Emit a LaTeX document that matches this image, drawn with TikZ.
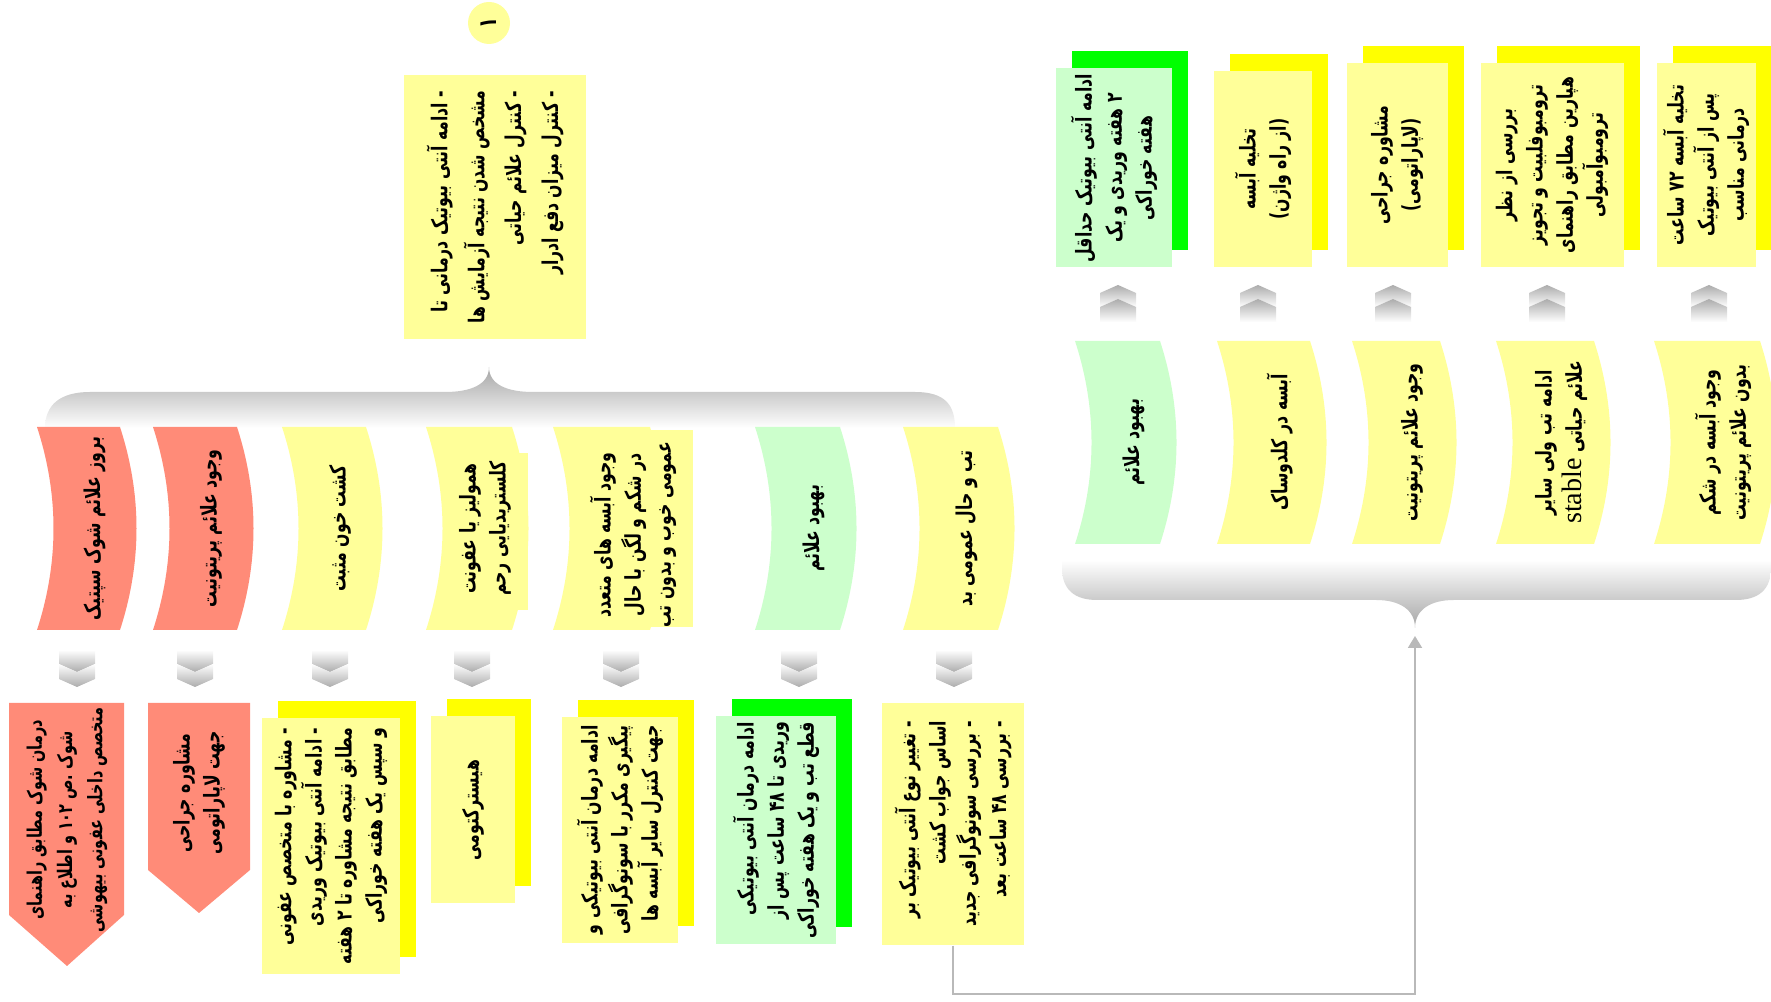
\documentclass[tikz,border=0pt]{standalone}
\usepackage{fontspec}
\setmainfont{Liberation Serif}
\newfontfamily\fa[Script=Arabic, FakeStretch=0.72]{DejaVu Sans}
\newfontfamily\lat{Liberation Serif}
\TeXXeTstate=1
\usetikzlibrary{positioning, shadows, arrows.meta}

\definecolor{noteyellow}{HTML}{FFFF99}
\definecolor{brightyellow}{HTML}{FFFF00}
\definecolor{notegreen}{HTML}{CCFFCC}
\definecolor{brightgreen}{HTML}{00FF00}
\definecolor{alertred}{HTML}{FF8B78}

\newcommand{\rl}[1]{\beginR #1\endR}
% bent condition banner: name, x0, x1, y0, y1, colour
\newcommand{\bentbox}[6]{%
  \fill[#6] (#2,#4) -- (#3,#4)
    .. controls ({#3+22},{#4+(#5-#4)/3}) and ({#3+22},{#4+2*(#5-#4)/3}) .. (#3,#5)
    -- (#2,#5)
    .. controls ({#2+22},{#4+2*(#5-#4)/3}) and ({#2+22},{#4+(#5-#4)/3}) .. cycle;
  \coordinate (#1) at ({(#2+#3)/2+16},{(#4+#5)/2});}
% double chevrons: x centre, y top
\newcommand{\chevdown}[2]{%
  \begin{scope}[shift={(#1,#2)}]
    \shade[top color=white, bottom color=gray!65] (-18,0) -- (18,0) -- (18,14) -- (0,22) -- (-18,14) -- cycle;
    \shade[top color=white, bottom color=gray!65] (-18,14) -- (0,22) -- (18,14) -- (18,29) -- (0,37) -- (-18,29) -- cycle;
  \end{scope}}
\newcommand{\chevup}[2]{%
  \begin{scope}[shift={(#1,#2)}]
    \shade[top color=gray!65, bottom color=white] (0,0) -- (18,8) -- (18,22) -- (0,14) -- (-18,22) -- (-18,8) -- cycle;
    \shade[top color=gray!65, bottom color=white] (0,14) -- (18,22) -- (18,37) -- (-18,37) -- (-18,22) -- cycle;
  \end{scope}}

\begin{document}
\begin{tikzpicture}[x=0.1mm, y=-0.1mm,
    fatext/.style={rotate=90, font=\fa\bfseries\fontsize{6.2}{8.6}\selectfont, align=center, inner sep=0pt, text=black},
    notebox/.style={rectangle, draw=none, inner sep=0pt},
    yshadow/.style={copy shadow={shadow xshift=1.6mm, shadow yshift=1.7mm, fill=brightyellow, draw=none}},
    gshadow/.style={copy shadow={shadow xshift=1.6mm, shadow yshift=1.7mm, fill=brightgreen, draw=none}},
    feedline/.style={draw=gray!55, line width=0.2mm, -{Triangle[width=1.4mm,length=1.2mm]}}]

        \useasboundingbox (0,0) rectangle (1771,1002);

        % ==========================================
        % Start: number and first care plan
        % ==========================================
        \node[circle, fill=noteyellow, minimum size=4.2mm, inner sep=0pt, rotate=90,
              font=\fa\bfseries\fontsize{7}{8}\selectfont] (num) at (489,23) {۱};
        \node[notebox, fill=noteyellow, minimum width=18.2mm, minimum height=26.4mm] (plan) at (495,207) {};
        \node[fatext, align=right, font=\fa\bfseries\fontsize{6.2}{10.5}\selectfont] (plantxt) at (plan)
              {\rl{- ادامه آنتی بیوتیک درمانی تا}\\ \rl{مشخص شدن نتیجه آزمایش ها}\\
               \rl{- کنترل علائم حیاتی}\\ \rl{- کنترل میزان دفع ادرار}};

        % brace under the plan (cusp up)
        \shade[top color=gray!70, bottom color=white]
              (45,428) .. controls (45,405) and (60,392) .. (90,392)
              -- (445,392) .. controls (470,392) and (489,385) .. (489,367)
              .. controls (489,385) and (508,392) .. (533,392)
              -- (915,392) .. controls (945,392) and (955,405) .. (955,428) -- cycle;
        \coordinate (lcusp) at (489,367);

        % ==========================================
        % Conditions after the first plan
        % ==========================================
        \bentbox{m1}{37}{120}{427}{630}{alertred}
        \node[fatext] (m1t) at (m1) {\rl{بروز علائم شوک سپتیک}};
        \bentbox{m2}{153}{237}{427}{630}{alertred}
        \node[fatext] (m2t) at (m2) {\rl{وجود علائم پریتونیت}};
        \bentbox{m3}{282}{366}{427}{630}{noteyellow}
        \node[fatext] (m3t) at (m3) {\rl{کشت خون مثبت}};
        \fill[noteyellow] (480,453) rectangle (528,610);
        \bentbox{m4}{426}{512}{427}{630}{noteyellow}
        \node[fatext] (m4t) at (m4) {\rl{همولیز یا عفونت}\\ \rl{کلستریدیایی رحم}};
        \fill[noteyellow] (600,430) rectangle (693,627);
        \bentbox{m5}{553}{650}{427}{630}{noteyellow}
        \node[fatext] (m5t) at (633,535) {\rl{وجود آبسه های متعدد}\\ \rl{در شکم و لگن با حال}\\ \rl{عمومی خوب و بدون تب}};
        \bentbox{m6}{755}{840}{427}{630}{notegreen}
        \node[fatext] (m6t) at (m6) {\rl{بهبود علائم}};
        \bentbox{m7}{903}{998}{427}{630}{noteyellow}
        \node[fatext] (m7t) at (m7) {\rl{تب و حال عمومی بد}};

        % chevrons down to the actions
        \chevdown{77}{650}
        \chevdown{195}{650}
        \chevdown{330}{650}
        \chevdown{472}{650}
        \chevdown{621}{650}
        \chevdown{799}{650}
        \chevdown{954}{650}

        % ==========================================
        % Actions
        % ==========================================
        \fill[alertred] (9,703) -- (124,703) -- (124,915) -- (67,966) -- (9,915) -- cycle;
        \node[fatext, font=\fa\bfseries\fontsize{5.7}{8.6}\selectfont] (b1t) at (67,820)
              {\rl{درمان شوک مطابق راهنمای}\\ \rl{شوک .ص ۱۰۲ و اطلاع به}\\ \rl{متخصص داخلی عفونی بیهوشی}};
        \fill[alertred] (148,703) -- (250,703) -- (250,870) -- (199,913) -- (148,870) -- cycle;
        \node[fatext] (b2t) at (199,793) {\rl{مشاوره جراحی}\\ \rl{جهت لاپاراتومی}};

        \node[notebox, fill=noteyellow, yshadow, minimum width=13.8mm, minimum height=25.6mm] (b3) at (331,846) {};
        \node[fatext, align=right] (b3t) at (b3) {\rl{- مشاوره با متخصص عفونی}\\ \rl{- ادامه آنتی بیوتیک وریدی}\\
              \rl{مطابق نتیجه مشاوره تا ۲ هفته}\\ \rl{و سپس یک هفته خوراکی}};
        \node[notebox, fill=noteyellow, yshadow, minimum width=8.4mm, minimum height=18.7mm] (b4) at (473,810) {};
        \node[fatext] (b4t) at (b4) {\rl{هیسترکتومی}};
        \node[notebox, fill=noteyellow, yshadow, minimum width=11.6mm, minimum height=22.6mm] (b5) at (620,830) {};
        \node[fatext, align=right] (b5t) at (b5) {\rl{ادامه درمان آنتی بیوتیکی و}\\ \rl{پیگیری مکرر با سونوگرافی}\\ \rl{جهت کنترل سایر آبسه ها}};
        \node[notebox, fill=notegreen, gshadow, minimum width=12mm, minimum height=22.8mm] (b6) at (776,830) {};
        \node[fatext, align=right] (b6t) at (b6) {\rl{ادامه درمان آنتی بیوتیکی}\\ \rl{وریدی تا ۴۸ ساعت پس از}\\ \rl{قطع تب و یک هفته خوراکی}};
        \node[notebox, fill=noteyellow, minimum width=14.2mm, minimum height=24.2mm] (b7) at (953,824) {};
        \node[fatext, align=right] (b7t) at (b7) {\rl{- تغییر نوع آنتی بیوتیک بر}\\ \rl{اساس جواب کشت}\\
              \rl{- بررسی سونوگرافی جدید}\\ \rl{- بررسی ۴۸ ساعت بعد}};

        % ==========================================
        % Re-check: brace, conditions, actions
        % ==========================================
        \shade[top color=white, bottom color=gray!70]
              (1062,560) -- (1062,568) .. controls (1062,590) and (1075,600) .. (1097,600)
              -- (1376,600) .. controls (1400,600) and (1415,610) .. (1415,628)
              .. controls (1415,610) and (1430,600) .. (1454,600)
              -- (1736,600) .. controls (1758,600) and (1771,590) .. (1771,568) -- (1771,560) -- cycle;
        \coordinate (rcusp) at (1415,636);
        \coordinate (fbturn) at (1415,994);
        \draw[feedline] (b7.south) |- (fbturn) -- (rcusp);

        \bentbox{r1}{1075}{1160}{341}{544}{notegreen}
        \node[fatext] (r1t) at (r1) {\rl{بهبود علائم}};
        \bentbox{r2}{1217}{1310}{341}{544}{noteyellow}
        \node[fatext] (r2t) at (r2) {\rl{آبسه در کلدوساک}};
        \bentbox{r3}{1352}{1440}{341}{544}{noteyellow}
        \node[fatext] (r3t) at (r3) {\rl{وجود علائم پریتونیت}};
        \bentbox{r4}{1496}{1594}{341}{544}{noteyellow}
        \node[fatext] (r4t) at (r4) {\rl{ادامه تب ولی سایر}\\ \rl{علائم حیاتی \beginL{\lat\mdseries\fontsize{8}{8.6}\selectfont stable}\endL}};
        \bentbox{r5}{1654}{1760}{341}{544}{noteyellow}
        \node[fatext] (r5t) at (r5) {\rl{وجود آبسه در شکم}\\ \rl{بدون علائم پریتونیت}};

        % chevrons up to the actions
        \chevup{1118}{285}
        \chevup{1258}{285}
        \chevup{1393}{285}
        \chevup{1547}{285}
        \chevup{1709}{285}

        \node[notebox, fill=notegreen, gshadow, minimum width=11.6mm, minimum height=19.9mm] (t1) at (1114,168) {};
        \node[fatext] (t1t) at (t1) {\rl{ادامه آنتی بیوتیک حداقل}\\ \rl{۲ هفته وریدی و یک}\\ \rl{هفته خوراکی}};
        \node[notebox, fill=noteyellow, yshadow, minimum width=9.8mm, minimum height=19.6mm] (t2) at (1263,169) {};
        \node[fatext] (t2t) at (t2) {\rl{تخلیه آبسه}\\ \rl{(از راه واژن)}};
        \node[notebox, fill=noteyellow, yshadow, minimum width=10.1mm, minimum height=20.4mm] (t3) at (1397,165) {};
        \node[fatext] (t3t) at (t3) {\rl{مشاوره جراحی}\\ \rl{(لاپاراتومی)}};
        \node[notebox, fill=noteyellow, yshadow, minimum width=14.3mm, minimum height=20.4mm] (t4) at (1552,165) {};
        \node[fatext] (t4t) at (t4) {\rl{بررسی از نظر}\\ \rl{ترومبوفلبیت و تجویز}\\ \rl{هپارین مطابق راهنمای}\\ \rl{ترومبوآمبولی}};
        \node[notebox, fill=noteyellow, yshadow, minimum width=9.9mm, minimum height=20.4mm] (t5) at (1706,165) {};
        \node[fatext] (t5t) at (t5) {\rl{تخلیه آبسه ۷۲ ساعت}\\ \rl{پس از آنتی بیوتیک}\\ \rl{درمانی مناسب}};

    \end{tikzpicture}
\end{document}
